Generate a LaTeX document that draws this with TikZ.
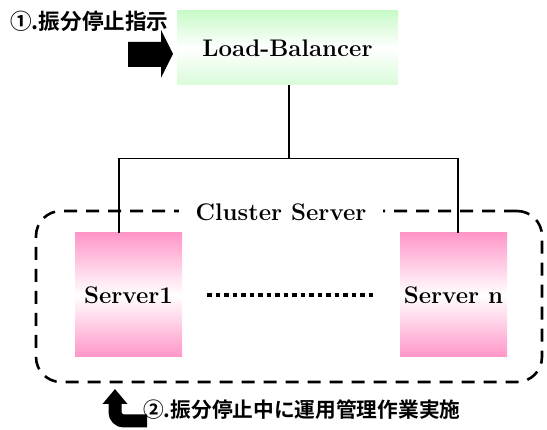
\documentclass[tikz,border=0pt]{standalone}
\usepackage{fontspec}
\newfontfamily\jpfont{Noto Sans CJK JP}[BoldFont={* Bold}]
\definecolor{lbgreen}{RGB}{200,250,200}
\definecolor{srvpink}{RGB}{255,150,200}
\usetikzlibrary{arrows.meta, positioning, calc}

\begin{document}
\begin{tikzpicture}[x=1pt, y=-1pt,
    every node/.style={font=\fontsize{24}{26}\selectfont\bfseries},
    lbbox/.style={top color=lbgreen, bottom color=lbgreen!70, middle color=white,
                  minimum width=221pt, minimum height=74pt, inner sep=0},
    srvbox/.style={top color=srvpink, bottom color=srvpink, middle color=white,
                   minimum width=107pt, minimum height=124pt, inner sep=0},
    frame/.style={draw, line width=2.6pt, dash pattern=on 13pt off 9pt, rounded corners=25pt,
                  minimum width=506pt, minimum height=171pt},
    note/.style={font=\jpfont\bfseries\fontsize{21.6}{24}\selectfont, inner sep=0, anchor=west},
    wire/.style={line width=1.2pt}
]
\useasboundingbox (0,0) rectangle (547,430);
\node[frame] (cl) at (289,296.5) {};
\node[fill=white, inner xsep=17pt, inner ysep=2pt] (cltitle) at (281,212) {Cluster Server};
\node[lbbox] (lb) at (287.5,48) {Load-Balancer};
\node[srvbox] (s1) at (128.5,295) {Server1};
\node[srvbox] (sn) at (453.5,295) {Server n};
\coordinate (bus) at ($(lb.south)+(1.5,73)$);
\draw[wire] (lb.south -| bus) -- (bus);
\draw[wire] ([xshift=-9.5pt]s1.north) |- (bus) -| ([xshift=4.5pt]sn.north);
\draw[line width=4.5pt, dash pattern=on 4.5pt off 4pt] ([xshift=25pt]s1.east) -- ([xshift=-25pt]sn.west);
\node[note] (n1) at (10,21) {①.振分停止指示};
\fill (128,42) -- (161,42) -- (161,30) -- (173,54) -- (161,78) -- (161,67) -- (128,67) -- cycle;
\node[note, font=\jpfont\bfseries\fontsize{20.7}{23}\selectfont] (n2) at (143,410) {②.振分停止中に運用管理作業実施};
\coordinate (up) at (115,389);
\draw[line width=13pt, rounded corners=9pt, -{Triangle[width=24pt, length=15pt]}]
    (147,421) -| (up);
\end{tikzpicture}
\end{document}
